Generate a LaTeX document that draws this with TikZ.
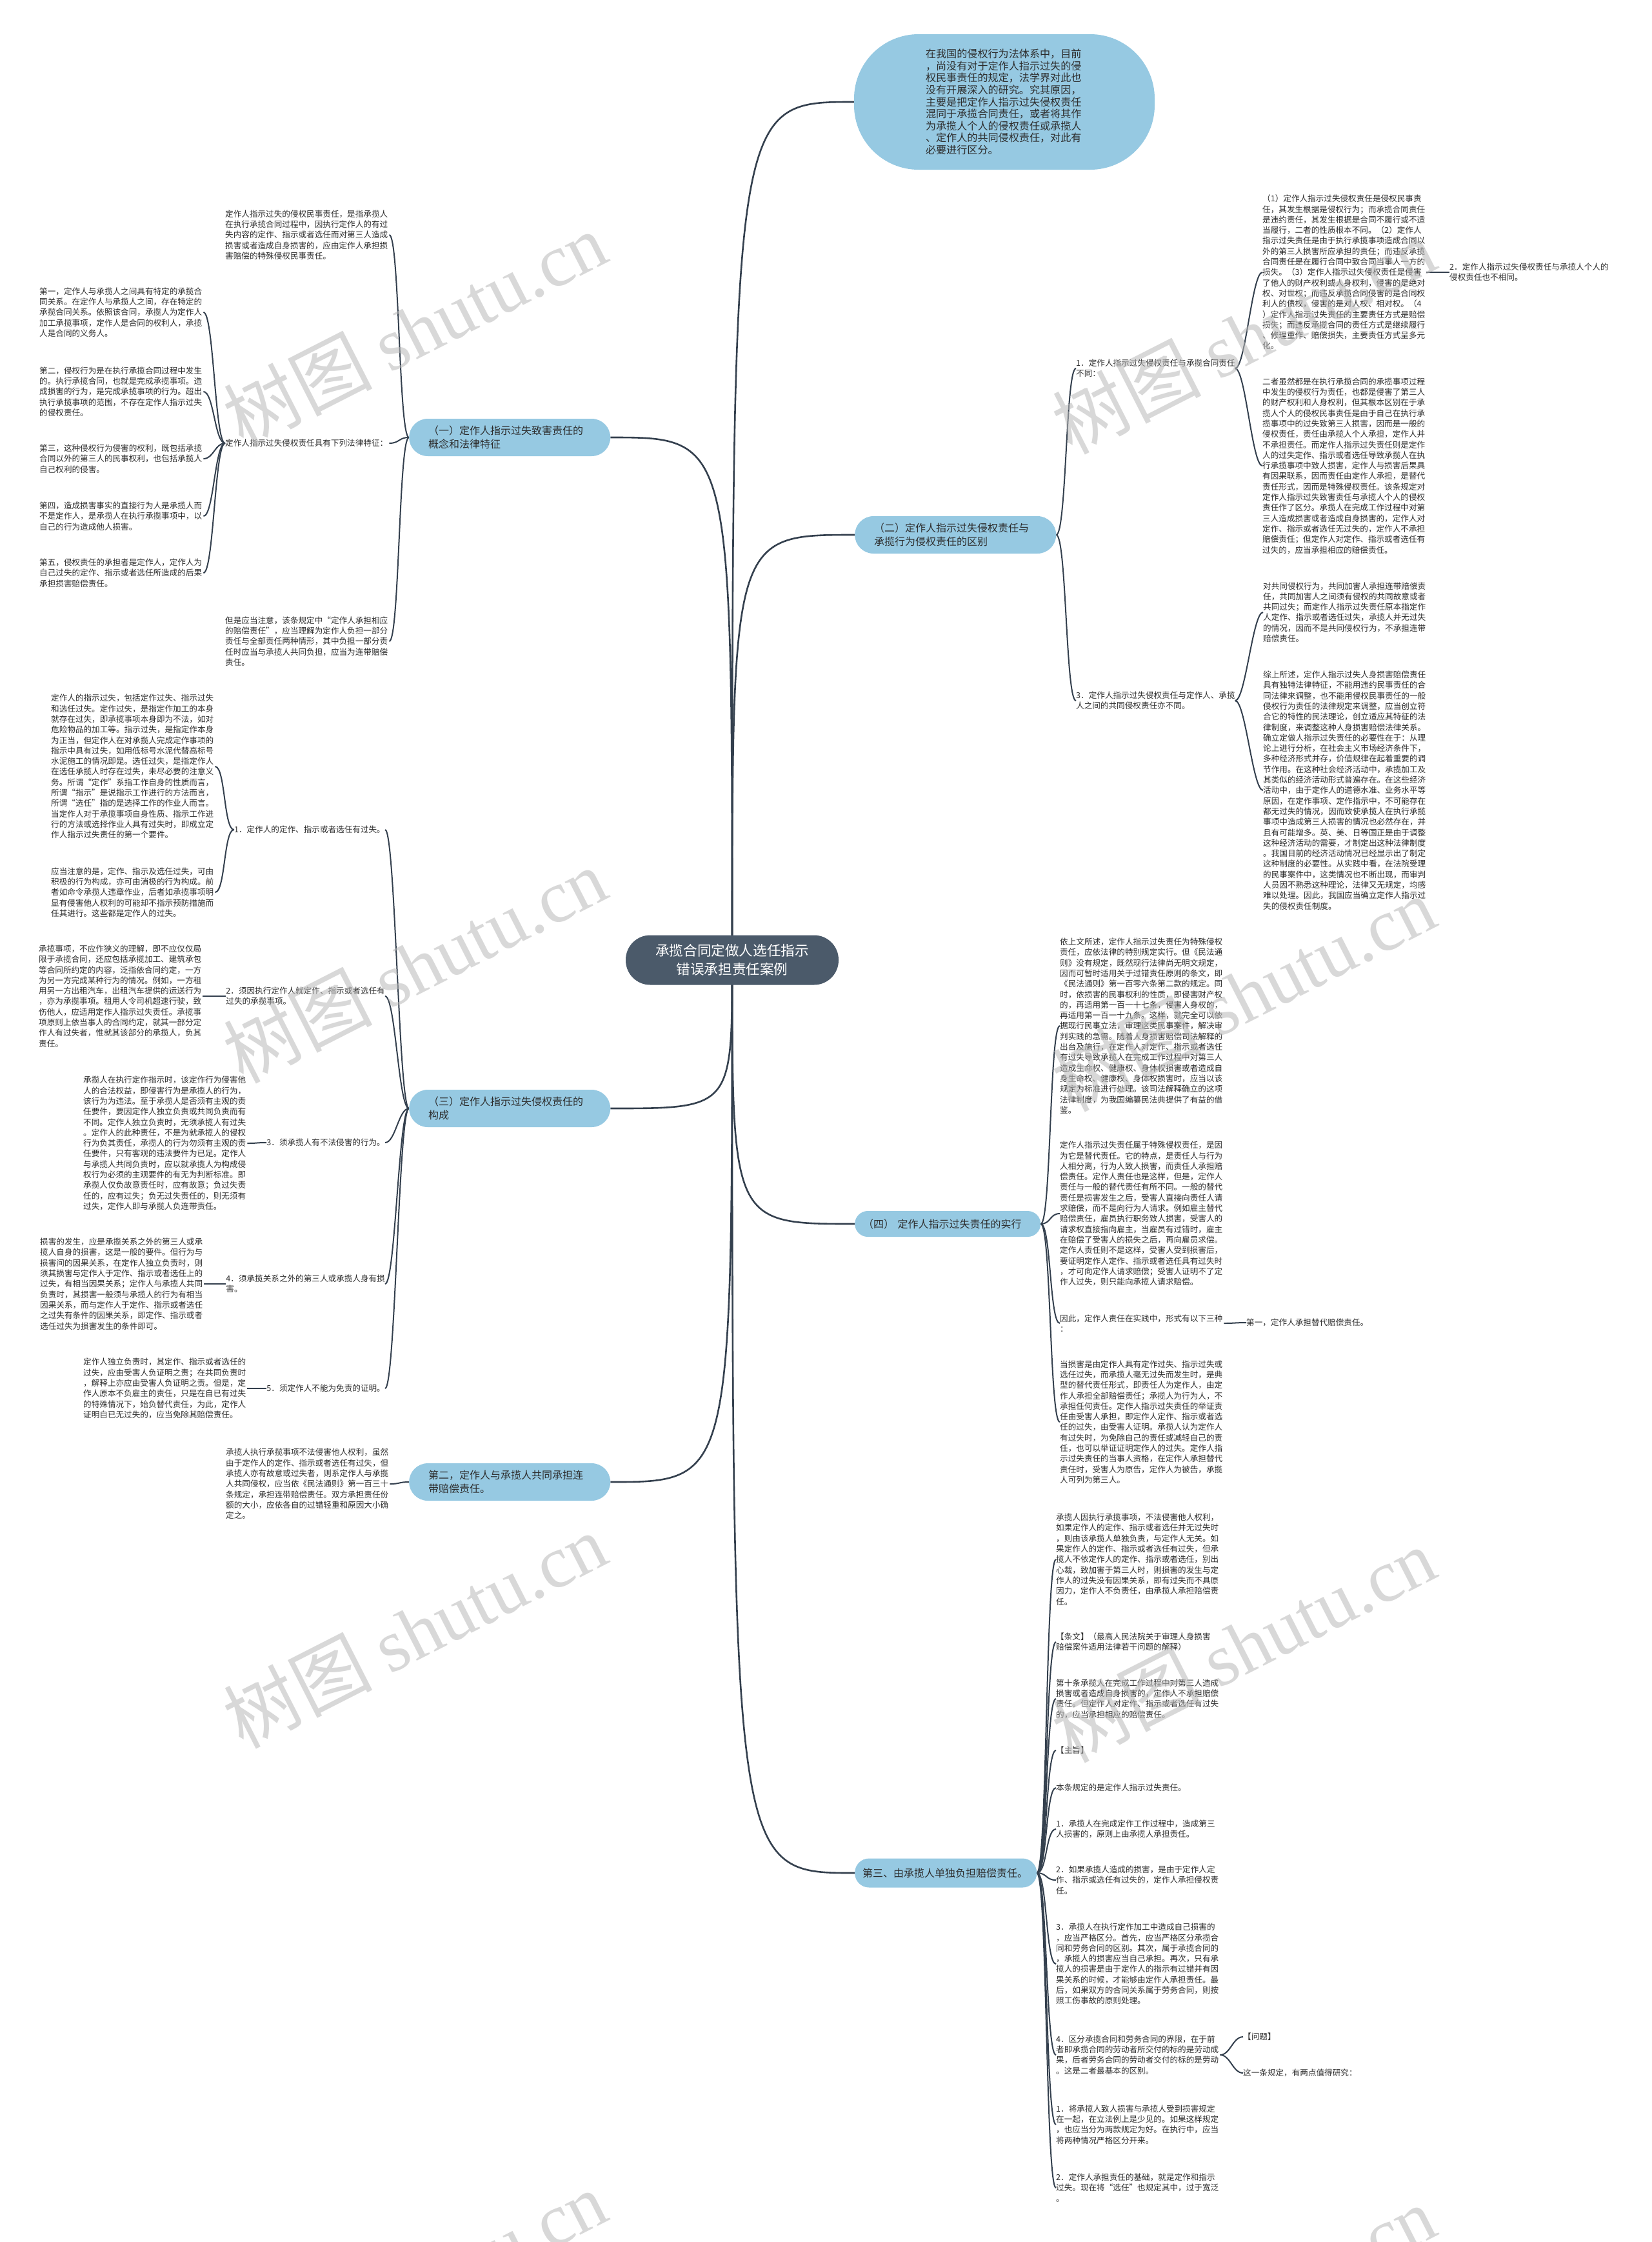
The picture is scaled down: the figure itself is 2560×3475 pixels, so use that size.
\documentclass[tikz,border=0pt]{standalone}
\usepackage{fontspec}
\setmainfont{Noto Sans CJK SC}
\newfontfamily\wmfont{Liberation Serif}
\usetikzlibrary{backgrounds}
\definecolor{brclr}{RGB}{150,201,226}
\definecolor{ctrclr}{RGB}{75,90,106}
\definecolor{lineclr}{RGB}{52,64,78}
\definecolor{txtclr}{RGB}{45,45,45}
\definecolor{wmclr}{RGB}{185,185,185}
\tikzset{
  conn/.style={draw=lineclr, line width=2pt},
  mainconn/.style={draw=lineclr, line width=2.6pt},
  txt/.style={inner sep=0pt, align=left, text=txtclr, font=\fontsize{12.6}{16.3}\selectfont},
  blk/.style={txt, text width=254pt},
  branch/.style={fill=brclr, rounded corners=29pt, minimum height=58pt, text width=252pt,
    inner xsep=30pt, inner ysep=0pt, align=left, text=txtclr, font=\fontsize{16}{21}\selectfont},
  wmark/.style={text=wmclr, opacity=0.55, rotate=27, inner sep=0pt, font=\fontsize{115}{115}\selectfont}
}
\newcommand\myL[2]{\draw[conn] (#1.west) .. controls +(-16,0) and +(16,0) .. (#2.east);}
\newcommand\myR[2]{\draw[conn] (#1.east) .. controls +(16,0) and +(-16,0) .. (#2.west);}
\newcommand\myC[2]{\draw[mainconn] (ctr.center) .. controls (ctr.center |- #1.#2) .. (#1.#2);}
\begin{document}
\begin{tikzpicture}[x=1pt,y=-1pt]
\useasboundingbox (0,0) rectangle (2560,3475);

% ---------- central and branch nodes ----------
\node[fill=ctrclr, rounded corners=38pt, minimum width=330pt, minimum height=77pt, inner sep=0pt,
  align=center, text=white, font=\fontsize{21.6}{29}\selectfont] (ctr) at (1135,1488)
  {承揽合同定做人选任指示\\错误承担责任案例};

\node[fill=brclr, rounded corners=100pt, minimum width=466pt, minimum height=210pt, inner sep=0pt,
  text width=244pt, align=left, text=txtclr, font=\fontsize{16.1}{18.6}\selectfont] (top) at (1557,158)
  {在我国的侵权行为法体系中，目前\\，尚没有对于定作人指示过失的侵\\权民事责任的规定，法学界对此也\\没有开展深入的研究。究其原因，\\主要是把定作人指示过失侵权责任\\混同于承揽合同责任，或者将其作\\为承揽人个人的侵权责任或承揽人\\、定作人的共同侵权责任，对此有\\必要进行区分。};

\node[branch, anchor=west] (b1) at (634,678) {（一）定作人指示过失致害责任的\\概念和法律特征};
\node[branch, anchor=west] (b2) at (1325,829) {（二）定作人指示过失侵权责任与\\承揽行为侵权责任的区别};
\node[branch, anchor=west] (b3) at (634,1718) {（三）定作人指示过失侵权责任的\\构成};
\node[branch, anchor=west, minimum height=40pt, rounded corners=20pt, text width=262pt, inner xsep=13pt] (b4) at (1325,1897) {（四） 定作人指示过失责任的实行};
\node[branch, anchor=west] (b5) at (634,2297) {第二，定作人与承揽人共同承担连\\带赔偿责任。};
\node[branch, anchor=west, minimum height=45pt, rounded corners=22pt, text width=258pt, inner xsep=12pt] (b6) at (1325,2903) {第三、由承揽人单独负担赔偿责任。};

% ---------- branch (一) ----------
\node[blk, anchor=west] (a1) at (349,364) {定作人指示过失的侵权民事责任，是指承揽人\\在执行承揽合同过程中，因执行定作人的有过\\失内容的定作、指示或者选任而对第三人造成\\损害或者造成自身损害的，应由定作人承担损\\害赔偿的特殊侵权民事责任。};
\node[blk, anchor=west] (a2) at (349,687) {定作人指示过失侵权责任具有下列法律特征：};
\node[blk, anchor=west] (a3) at (349,994) {但是应当注意，该条规定中“定作人承担相应\\的赔偿责任”，应当理解为定作人负担一部分\\责任与全部责任两种情形，其中负担一部分责\\任时应当与承揽人共同负担，应当为连带赔偿\\责任。};
\node[blk, anchor=west] (f1) at (61,484) {第一，定作人与承揽人之间具有特定的承揽合\\同关系。在定作人与承揽人之间，存在特定的\\承揽合同关系。依照该合同，承揽人为定作人\\加工承揽事项，定作人是合同的权利人，承揽\\人是合同的义务人。};
\node[blk, anchor=west] (f2) at (61,607) {第二，侵权行为是在执行承揽合同过程中发生\\的。执行承揽合同，也就是完成承揽事项。造\\成损害的行为，是完成承揽事项的行为。超出\\执行承揽事项的范围，不存在定作人指示过失\\的侵权责任。};
\node[blk, anchor=west] (f3) at (61,711) {第三，这种侵权行为侵害的权利，既包括承揽\\合同以外的第三人的民事权利，也包括承揽人\\自己权利的侵害。};
\node[blk, anchor=west] (f4) at (61,800) {第四，造成损害事实的直接行为人是承揽人而\\不是定作人，是承揽人在执行承揽事项中，以\\自己的行为造成他人损害。};
\node[blk, anchor=west] (f5) at (61,888) {第五，侵权责任的承担者是定作人，定作人为\\自己过失的定作、指示或者选任所造成的后果\\承担损害赔偿责任。};

% ---------- branch (三) ----------
\node[txt, anchor=east] (i1) at (597,1286) {1．定作人的定作、指示或者选任有过失。};
\node[txt, anchor=east] (i2) at (597,1544) {2．须因执行定作人就定作、指示或者选任有\\过失的承揽事项。};
\node[txt, anchor=east] (i3) at (597,1771) {3．须承揽人有不法侵害的行为。};
\node[txt, anchor=east] (i4) at (597,1990) {4．须承揽关系之外的第三人或承揽人身有损\\害。};
\node[txt, anchor=east] (i5) at (597,2152) {5．须定作人不能为免责的证明。};
\node[blk, anchor=west] (c1) at (79,1188) {定作人的指示过失，包括定作过失、指示过失\\和选任过失。定作过失，是指定作加工的本身\\就存在过失，即承揽事项本身即为不法，如对\\危险物品的加工等。指示过失，是指定作本身\\为正当，但定作人在对承揽人完成定作事项的\\指示中具有过失，如用低标号水泥代替高标号\\水泥施工的情况即是。选任过失，是指定作人\\在选任承揽人时存在过失，未尽必要的注意义\\务。所谓“定作”系指工作自身的性质而言，\\所谓“指示”是说指示工作进行的方法而言，\\所谓“选任”指的是选择工作的作业人而言。\\当定作人对于承揽事项自身性质、指示工作进\\行的方法或选择作业人具有过失时，即成立定\\作人指示过失责任的第一个要件。};
\node[blk, anchor=west] (c2) at (79,1383) {应当注意的是，定作、指示及选任过失，可由\\积极的行为构成，亦可由消极的行为构成。前\\者如命令承揽人违章作业，后者如承揽事项明\\显有侵害他人权利的可能却不指示预防措施而\\任其进行。这些都是定作人的过失。};
\node[blk, anchor=west] (c3) at (60,1544) {承揽事项，不应作狭义的理解，即不应仅仅局\\限于承揽合同，还应包括承揽加工、建筑承包\\等合同所约定的内容，泛指依合同约定，一方\\为另一方完成某种行为的情况。例如，一方租\\用另一方出租汽车，出租汽车提供的运送行为\\，亦为承揽事项。租用人令司机超速行驶，致\\伤他人，应适用定作人指示过失责任。承揽事\\项原则上依当事人的合同约定，就其一部分定\\作人有过失者，惟就其该部分的承揽人，负其\\责任。};
\node[blk, anchor=west] (c4) at (129,1772) {承揽人在执行定作指示时，该定作行为侵害他\\人的合法权益，即侵害行为是承揽人的行为，\\该行为为违法。至于承揽人是否须有主观的责\\任要件，要因定作人独立负责或共同负责而有\\不同。定作人独立负责时，无须承揽人有过失\\。定作人的此种责任，不是为就承揽人的侵权\\行为负其责任，承揽人的行为勿须有主观的责\\任要件，只有客观的违法要件为已足。定作人\\与承揽人共同负责时，应以就承揽人为构成侵\\权行为必须的主观要件的有无为判断标准。即\\承揽人仅负故意责任时，应有故意；负过失责\\任的，应有过失；负无过失责任的，则无须有\\过失，定作人即与承揽人负连带责任。};
\node[blk, anchor=west] (c5) at (62,1990) {损害的发生，应是承揽关系之外的第三人或承\\揽人自身的损害，这是一般的要件。但行为与\\损害间的因果关系，在定作人独立负责时，则\\须其损害与定作人于定作、指示或者选任上的\\过失，有相当因果关系；定作人与承揽人共同\\负责时，其损害一般须与承揽人的行为有相当\\因果关系，而与定作人于定作、指示或者选任\\之过失有条件的因果关系，即定作、指示或者\\选任过失为损害发生的条件即可。};
\node[blk, anchor=west] (c6) at (129,2152) {定作人独立负责时，其定作、指示或者选任的\\过失，应由受害人负证明之责；在共同负责时\\，解释上亦应由受害人负证明之责。但是，定\\作人原本不负雇主的责任，只是在自已有过失\\的特殊情况下，始负替代责任，为此，定作人\\证明自已无过失的，应当免除其赔偿责任。};

% ---------- branch 第二 ----------
\node[blk, anchor=west] (d1) at (350,2300) {承揽人执行承揽事项不法侵害他人权利，虽然\\由于定作人的定作、指示或者选任有过失，但\\承揽人亦有故意或过失者，则系定作人与承揽\\人共同侵权，应当依《民法通则》第一百三十\\条规定，承担连带赔偿责任。双方承担责任份\\额的大小，应依各自的过错轻重和原因大小确\\定之。};

% ---------- branch (二) ----------
\node[txt, anchor=west] (r1) at (1668,571) {1．定作人指示过失侵权责任与承揽合同责任\\不同：};
\node[txt, anchor=west] (r3) at (1668,1086) {3．定作人指示过失侵权责任与定作人、承揽\\人之间的共同侵权责任亦不同。};
\node[blk, anchor=west] (e1) at (1957,422) {（1）定作人指示过失侵权责任是侵权民事责\\任，其发生根据是侵权行为；而承揽合同责任\\是违约责任，其发生根据是合同不履行或不适\\当履行，二者的性质根本不同。（2）定作人\\指示过失责任是由于执行承揽事项造成合同以\\外的第三人损害所应承担的责任；而违反承揽\\合同责任是在履行合同中致合同当事人一方的\\损失。（3）定作人指示过失侵权责任是侵害\\了他人的财产权利或人身权利，侵害的是绝对\\权、对世权；而违反承揽合同侵害的是合同权\\利人的债权，侵害的是对人权、相对权。（4\\）定作人指示过失责任的主要责任方式是赔偿\\损失；而违反承揽合同的责任方式是继续履行\\、修理重作、赔偿损失，主要责任方式呈多元\\化。};
\node[txt, anchor=west] (e1c) at (2247,422) {2．定作人指示过失侵权责任与承揽人个人的\\侵权责任也不相同。};
\node[blk, anchor=west] (e2) at (1957,722) {二者虽然都是在执行承揽合同的承揽事项过程\\中发生的侵权行为责任，也都是侵害了第三人\\的财产权利和人身权利，但其根本区别在于承\\揽人个人的侵权民事责任是由于自己在执行承\\揽事项中的过失致第三人损害，因而是一般的\\侵权责任，责任由承揽人个人承担，定作人并\\不承担责任。而定作人指示过失责任则是定作\\人的过失定作、指示或者选任导致承揽人在执\\行承揽事项中致人损害，定作人与损害后果具\\有因果联系，因而责任由定作人承担，是替代\\责任形式，因而是特殊侵权责任。该条规定对\\定作人指示过失致害责任与承揽人个人的侵权\\责任作了区分。承揽人在完成工作过程中对第\\三人造成损害或者造成自身损害的，定作人对\\定作、指示或者选任无过失的，定作人不承担\\赔偿责任；但定作人对定作、指示或者选任有\\过失的，应当承担相应的赔偿责任。};
\node[blk, anchor=west] (g1) at (1958,949) {对共同侵权行为，共同加害人承担连带赔偿责\\任，共同加害人之间须有侵权的共同故意或者\\共同过失；而定作人指示过失责任原本指定作\\人定作、指示或者选任过失，承揽人并无过失\\的情况，因而不是共同侵权行为，不承担连带\\赔偿责任。};
\node[blk, anchor=west] (g2) at (1958,1225) {综上所述，定作人指示过失人身损害赔偿责任\\具有独特法律特征，不能用违约民事责任的合\\同法律来调整，也不能用侵权民事责任的一般\\侵权行为责任的法律规定来调整，应当创立符\\合它的特性的民法理论，创立适应其特征的法\\律制度，来调整这种人身损害赔偿法律关系。\\确立定做人指示过失责任的必要性在于：从理\\论上进行分析，在社会主义市场经济条件下，\\多种经济形式并存，价值规律在起着重要的调\\节作用。在这种社会经济活动中，承揽加工及\\其类似的经济活动形式普遍存在。在这些经济\\活动中，由于定作人的道德水准、业务水平等\\原因，在定作事项、定作指示中，不可能存在\\都无过失的情况，因而致使承揽人在执行承揽\\事项中造成第三人损害的情况也必然存在，并\\且有可能增多。英、美、日等国正是由于调整\\这种经济活动的需要，才制定出这种法律制度\\。我国目前的经济活动情况已经显示出了制定\\这种制度的必要性。从实践中看，在法院受理\\的民事案件中，这类情况也不断出现，而审判\\人员因不熟悉这种理论，法律又无规定，均感\\难以处理。因此，我国应当确立定作人指示过\\失的侵权责任制度。};

% ---------- branch (四) ----------
\node[blk, anchor=west] (h1) at (1643,1590) {依上文所述，定作人指示过失责任为特殊侵权\\责任，应依法律的特别规定实行。但《民法通\\则》没有规定，既然现行法律尚无明文规定，\\因而可暂时适用关于过错责任原则的条文，即\\《民法通则》第一百零六条第二款的规定。同\\时，依损害的民事权利的性质，即侵害财产权\\的，再适用第一百一十七条，侵害人身权的，\\再适用第一百一十九条。这样，就完全可以依\\据现行民事立法，审理这类民事案件，解决审\\判实践的急需。随着人身损害赔偿司法解释的\\出台及施行，在定作人对定作、指示或者选任\\有过失导致承揽人在完成工作过程中对第三人\\造成生命权、健康权、身体权损害或者造成自\\身生命权、健康权、身体权损害时，应当以该\\规定为标准进行处理。该司法解释确立的这项\\法律制度，为我国编纂民法典提供了有益的借\\鉴。};
\node[blk, anchor=west] (h2) at (1643,1881) {定作人指示过失责任属于特殊侵权责任，是因\\为它是替代责任。它的特点，是责任人与行为\\人相分离，行为人致人损害，而责任人承担赔\\偿责任。定作人责任也是这样，但是，定作人\\责任与一般的替代责任有所不同。一般的替代\\责任是损害发生之后，受害人直接向责任人请\\求赔偿，而不是向行为人请求。例如雇主替代\\赔偿责任，雇员执行职务致人损害，受害人的\\请求权直接指向雇主，当雇员有过错时，雇主\\在赔偿了受害人的损失之后，再向雇员求偿。\\定作人责任则不是这样，受害人受到损害后，\\要证明定作人定作、指示或者选任具有过失时\\，才可向定作人请求赔偿；受害人证明不了定\\作人过失，则只能向承揽人请求赔偿。};
\node[blk, anchor=west] (h3) at (1643,2051) {因此，定作人责任在实践中，形式有以下三种\\：};
\node[txt, anchor=west] (h3c) at (1932,2050) {第一，定作人承担替代赔偿责任。};
\node[blk, anchor=west] (h4) at (1643,2204) {当损害是由定作人具有定作过失、指示过失或\\选任过失，而承揽人毫无过失而发生时，是典\\型的替代责任形式，即责任人为定作人，由定\\作人承担全部赔偿责任；承揽人为行为人，不\\承担任何责任。定作人指示过失责任的举证责\\任由受害人承担，即定作人定作、指示或者选\\任的过失，由受害人证明。承揽人认为定作人\\有过失时，为免除自己的责任或减轻自己的责\\任，也可以举证证明定作人的过失。定作人指\\示过失责任的当事人资格，在定作人承担替代\\责任时，受害人为原告，定作人为被告，承揽\\人可列为第三人。};

% ---------- branch 第三 ----------
\node[blk, anchor=west] (k1) at (1637,2417) {承揽人因执行承揽事项，不法侵害他人权利，\\如果定作人的定作、指示或者选任并无过失时\\，则由该承揽人单独负责，与定作人无关。如\\果定作人的定作、指示或者选任有过失，但承\\揽人不依定作人的定作、指示或者选任，别出\\心裁，致加害于第三人时，则损害的发生与定\\作人的过失没有因果关系，即有过失而不具原\\因力，定作人不负责任，由承揽人承担赔偿责\\任。};
\node[blk, anchor=west] (k2) at (1637,2545) {【条文】（最高人民法院关于审理人身损害\\赔偿案件适用法律若干问题的解释）};
\node[blk, anchor=west] (k3) at (1637,2633) {第十条承揽人在完成工作过程中对第三人造成\\损害或者造成自身损害的，定作人不承担赔偿\\责任。但定作人对定作、指示或者选任有过失\\的，应当承担相应的赔偿责任。};
\node[blk, anchor=west] (k4) at (1637,2713) {【主旨】};
\node[blk, anchor=west] (k5) at (1637,2771) {本条规定的是定作人指示过失责任。};
\node[blk, anchor=west] (k6) at (1637,2835) {1．承揽人在完成定作工作过程中，造成第三\\人损害的，原则上由承揽人承担责任。};
\node[blk, anchor=west] (k7) at (1637,2914) {2．如果承揽人造成的损害，是由于定作人定\\作、指示或选任有过失的，定作人承担侵权责\\任。};
\node[blk, anchor=west] (k8) at (1637,3044) {3．承揽人在执行定作加工中造成自己损害的\\，应当严格区分。首先，应当严格区分承揽合\\同和劳务合同的区别。其次，属于承揽合同的\\，承揽人的损害应当自己承担。再次，只有承\\揽人的损害是由于定作人的指示有过错并有因\\果关系的时候，才能够由定作人承担责任。最\\后，如果双方的合同关系属于劳务合同，则按\\照工伤事故的原则处理。};
\node[blk, anchor=west] (k9) at (1637,3185) {4．区分承揽合同和劳务合同的界限，在于前\\者即承揽合同的劳动者所交付的标的是劳动成\\果，后者劳务合同的劳动者交付的标的是劳动\\。这是二者最基本的区别。};
\node[txt, anchor=west] (k9a) at (1927,3157) {【问题】};
\node[txt, anchor=west] (k9b) at (1927,3213) {这一条规定，有两点值得研究：};
\node[blk, anchor=west] (k10) at (1637,3293) {1．将承揽人致人损害与承揽人受到损害规定\\在一起，在立法例上是少见的。如果这样规定\\，也应当分为两款规定为好。在执行中，应当\\将两种情况严格区分开来。};
\node[blk, anchor=west] (k11) at (1637,3391) {2．定作人承担责任的基础，就是定作和指示\\过失。现在将“选任”也规定其中，过于宽泛\\。};

% ---------- connectors ----------
\begin{pgfonlayer}{background}
\fill[white] (0,0) rectangle (2560,3475);
\myC{top}{west}
\myC{b1}{east}
\myC{b2}{west}
\myC{b3}{east}
\myC{b4}{west}
\myC{b5}{east}
\myC{b6}{west}
\myL{b1}{a1} \myL{b1}{a2} \myL{b1}{a3}
\myL{a2}{f1} \myL{a2}{f2} \myL{a2}{f3} \myL{a2}{f4} \myL{a2}{f5}
\myL{b3}{i1} \myL{b3}{i2} \myL{b3}{i3} \myL{b3}{i4} \myL{b3}{i5}
\myL{i1}{c1} \myL{i1}{c2} \myL{i2}{c3} \myL{i3}{c4} \myL{i4}{c5} \myL{i5}{c6}
\myL{b5}{d1}
\myR{b2}{r1} \myR{b2}{r3}
\myR{r1}{e1} \myR{r1}{e2} \myR{e1}{e1c}
\myR{r3}{g1} \myR{r3}{g2}
\myR{b4}{h1} \myR{b4}{h2} \myR{b4}{h3} \myR{b4}{h4} \myR{h3}{h3c}
\myR{b6}{k1} \myR{b6}{k2} \myR{b6}{k3} \myR{b6}{k4} \myR{b6}{k5} \myR{b6}{k6}
\myR{b6}{k7} \myR{b6}{k8} \myR{b6}{k9} \myR{b6}{k10} \myR{b6}{k11}
\myR{k9}{k9a} \myR{k9}{k9b}
\end{pgfonlayer}

% ---------- watermarks ----------
\node[wmark] (w1) at (643,510) {树图 {\wmfont shutu.cn}};
\node[wmark] (w2) at (643,1496) {树图 {\wmfont shutu.cn}};
\node[wmark] (w3) at (643,2527) {树图 {\wmfont shutu.cn}};
\node[wmark] (w4) at (643,3546) {树图 {\wmfont shutu.cn}};
\node[wmark] (w5) at (1928,521) {树图 {\wmfont shutu.cn}};
\node[wmark] (w6) at (1928,1540) {树图 {\wmfont shutu.cn}};
\node[wmark] (w7) at (1928,2549) {树图 {\wmfont shutu.cn}};
\node[wmark] (w8) at (1928,3569) {树图 {\wmfont shutu.cn}};
\end{tikzpicture}
\end{document}
